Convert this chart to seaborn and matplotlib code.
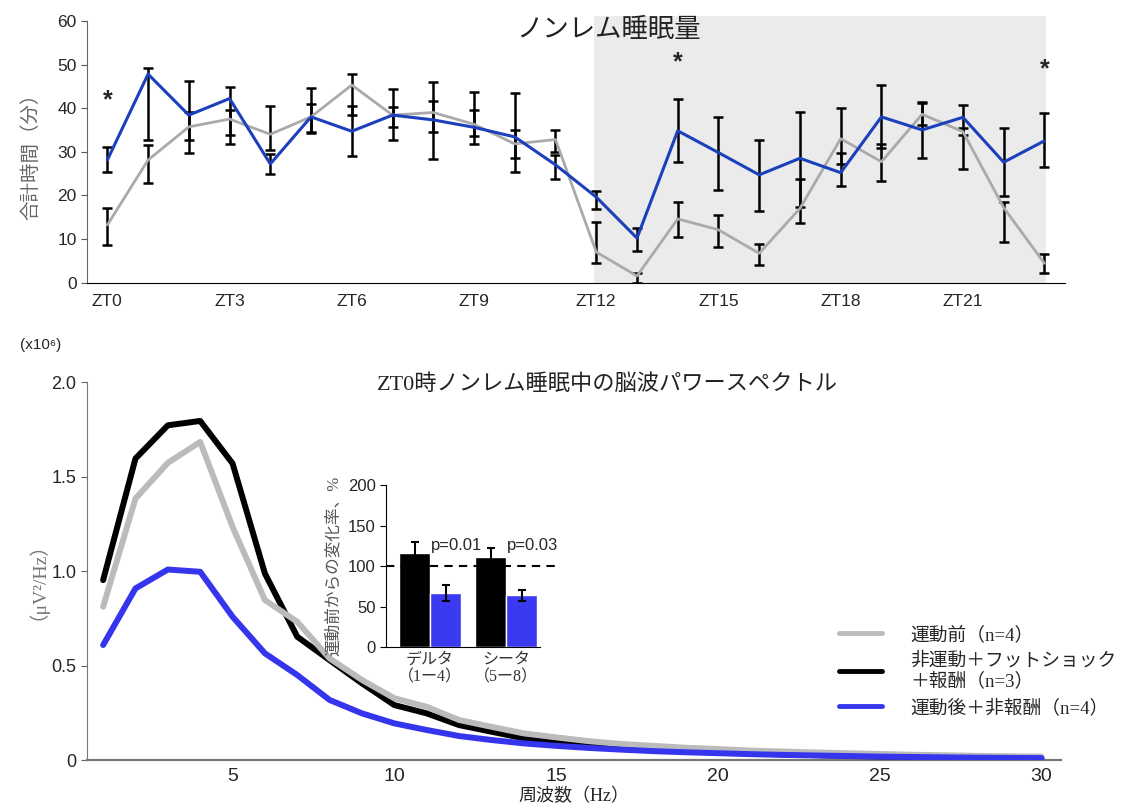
import numpy as np
import pandas as pd
import matplotlib
matplotlib.use("Agg")
import matplotlib.pyplot as plt
import seaborn as sns
from matplotlib.lines import Line2D

# ---- top panel: NREM amount per hour ----
hours = list(range(24))
zt_ticks = [0, 3, 6, 9, 12, 15, 18, 21]
zt_labels = ["ZT0", "ZT3", "ZT6", "ZT9", "ZT12", "ZT15", "ZT18", "ZT21"]

nrem_before = [13.2, 28.1, 35.7, 37.5, 34.0, 38.0, 45.3, 38.4, 39.0, 36.3, 31.8, 32.8,
               7.0, 1.5, 14.6, 12.1, 6.7, 17.0, 33.0, 27.7, 38.6, 34.6, 17.2, 4.4]
before_lo = [8.6, 22.9, 32.7, 31.7, 30.4, 34.2, 38.4, 32.7, 34.6, 33.6, 28.5, 30.0,
             4.4, 0.0, 10.4, 8.1, 4.1, 13.7, 27.3, 23.3, 36.1, 33.8, 9.2, 2.1]
before_hi = [17.0, 31.5, 39.1, 39.5, 40.5, 44.7, 47.8, 44.3, 41.7, 39.5, 35.0, 35.1,
             14.0, 2.3, 18.5, 15.5, 8.9, 23.7, 40.1, 31.8, 41.1, 35.4, 18.5, 6.6]

nrem_after = [28.1, 47.8, 38.4, 42.2, 27.2, 38.0, 34.7, 38.4, 37.3, 35.6, 33.4, 27.0,
              19.6, 10.2, 34.8, 29.8, 24.7, 28.5, 25.2, 38.0, 35.0, 37.9, 27.6, 32.5]
after_lo = [25.4, 32.6, 29.6, 33.8, 25.0, 34.6, 29.0, 35.7, 28.3, 31.7, 25.4, 23.7,
            16.8, 7.3, 27.7, 21.2, 16.3, 17.4, 22.1, 30.8, 28.5, 26.0, 19.9, 26.4]
after_hi = [31.1, 49.3, 46.3, 44.9, 29.5, 40.9, 40.5, 40.3, 46.0, 43.7, 43.5, 29.2,
            21.1, 12.6, 42.0, 38.0, 32.8, 39.0, 29.8, 45.3, 41.4, 40.7, 35.4, 38.9]

star_hours = [0, 14, 23]
star_y = [41.8, 50.6, 49.0]

# ---- bottom panel: power spectrum at ZT0 ----
freq = list(range(1, 31))
pow_before = [0.812, 1.385, 1.574, 1.685, 1.235, 0.847, 0.732, 0.538, 0.424, 0.327,
              0.282, 0.212, 0.176, 0.141, 0.120, 0.100, 0.085, 0.075, 0.065, 0.058,
              0.050, 0.045, 0.040, 0.036, 0.032, 0.028, 0.025, 0.022, 0.020, 0.018]
pow_shock = [0.953, 1.597, 1.773, 1.796, 1.571, 0.988, 0.653, 0.529, 0.406, 0.291,
             0.247, 0.185, 0.150, 0.115, 0.095, 0.078, 0.065, 0.055, 0.047, 0.040,
             0.035, 0.030, 0.026, 0.022, 0.019, 0.017, 0.015, 0.013, 0.011, 0.010]
pow_after = [0.609, 0.909, 1.009, 0.997, 0.759, 0.565, 0.450, 0.318, 0.247, 0.194,
             0.159, 0.127, 0.106, 0.088, 0.075, 0.064, 0.055, 0.047, 0.041, 0.036,
             0.031, 0.027, 0.024, 0.021, 0.018, 0.016, 0.014, 0.012, 0.011, 0.010]
legend_labels = ["運動前（n=4）", "非運動＋フットショック\n＋報酬（n=3）", "運動後＋非報酬（n=4）"]

# ---- inset: change from before (%) ----
bands = ["デルタ\n（1ー4）", "シータ\n（5ー8）"]
groups = ["非運動", "運動後"]
change = [[116, 112], [67, 64]]      # per group, per band
change_err = [[14, 11], [10, 6.5]]
p_texts = ["p=0.01", "p=0.03"]

sns.set_style("white")
plt.rcParams["font.family"] = ["Liberation Sans", "Noto Sans CJK JP", "DejaVu Sans"]
serif = ["Liberation Serif", "Noto Sans CJK JP", "DejaVu Sans"]

fig = plt.figure(figsize=(11.22, 8.05), dpi=100)

# ================= top =================
ax1 = fig.add_axes([0.0775, 0.649, 0.8715, 0.325])
ax1.axvspan(11.95, 23.05, ymin=0, ymax=1.02, color="#ebebeb", lw=0, zorder=0, clip_on=False)
ax1.errorbar(hours, nrem_before,
             yerr=[np.array(nrem_before) - before_lo, np.array(before_hi) - nrem_before],
             fmt="none", ecolor="black", elinewidth=1.8, capsize=3.6, capthick=1.8, zorder=2)
ax1.errorbar(hours, nrem_after,
             yerr=[np.array(nrem_after) - after_lo, np.array(after_hi) - nrem_after],
             fmt="none", ecolor="black", elinewidth=1.8, capsize=3.6, capthick=1.8, zorder=2)
sns.lineplot(x=hours, y=nrem_before, color="#aaaaaa", lw=2.0, ax=ax1, zorder=3)
sns.lineplot(x=hours, y=nrem_after, color="#1c3fbb", lw=2.2, ax=ax1, zorder=4)
for h, y in zip(star_hours, star_y):
    ax1.text(h, y, "*", ha="center", va="center", fontsize=18, fontweight="bold")
ax1.set_xlim(-0.5, 23.5)
ax1.set_ylim(0, 60)
ax1.set_yticks(range(0, 61, 10))
ax1.set_xticks(zt_ticks)
ax1.set_xticklabels(zt_labels)
ax1.tick_params(axis="x", length=0, labelsize=12.5, pad=8)
ax1.tick_params(axis="y", length=4, labelsize=12.5, color="#555555", direction="out")
ax1.yaxis.set_ticks_position("left")
sns.despine(ax=ax1)
ax1.spines["left"].set_color("#666666")
ax1.spines["bottom"].set_color("black")
ax1.set_ylabel("合計時間（分）", fontsize=14, color="#666666", labelpad=12)
fig.text(0.5428, 0.963, "ノンレム睡眠量", ha="center", va="center", fontsize=19,
         family=serif, color="#222222")

# ================= bottom =================
ax2 = fig.add_axes([0.0775, 0.0559, 0.868, 0.469])
sns.lineplot(x=freq, y=pow_shock, color="black", lw=4.3, ax=ax2, zorder=3)
sns.lineplot(x=freq, y=pow_before, color="#bbbbbb", lw=4.3, ax=ax2, zorder=4)
sns.lineplot(x=freq, y=pow_after, color="#3535ee", lw=4.3, ax=ax2, zorder=5)
ax2.set_xlim(0.5, 30.6)
ax2.set_ylim(0, 2.0)
ax2.set_yticks([0, 0.5, 1.0, 1.5, 2.0])
ax2.set_yticklabels(["0", "0.5", "1.0", "1.5", "2.0"])
ax2.set_xticks([5, 10, 15, 20, 25, 30])
ax2.tick_params(axis="x", length=0, labelsize=14, pad=6)
ax2.tick_params(axis="y", length=4, labelsize=13, color="#666666", direction="out")
ax2.yaxis.set_ticks_position("left")
sns.despine(ax=ax2)
ax2.spines["left"].set_color("#777777")
ax2.spines["bottom"].set_color("#777777")
ax2.spines["bottom"].set_linewidth(1.6)
ax2.set_xlabel("周波数（Hz）", fontsize=13, family=serif, labelpad=2)
ax2.set_ylabel("（μV²/Hz）", fontsize=14, family=serif, color="#777777", labelpad=10)
fig.text(0.036, 0.571, "(x10⁶)", ha="center", va="center", fontsize=11)
fig.text(0.541, 0.522, "ZT0時ノンレム睡眠中の脳波パワースペクトル", ha="center", va="center",
         fontsize=16, family=serif, color="#222222")

handles = [Line2D([], [], color="#bbbbbb", lw=3.5),
           Line2D([], [], color="black", lw=3.5),
           Line2D([], [], color="#3535ee", lw=3.5)]
leg = ax2.legend(handles, legend_labels, loc="upper left", bbox_to_anchor=(0.755, 0.40),
                 frameon=False, handlelength=2.3, handletextpad=1.5, labelspacing=0.45,
                 prop={"family": serif, "size": 13.5})

# ================= inset =================
ax3 = fig.add_axes([0.344, 0.196, 0.137, 0.2012])
ax3.set_facecolor("none")
df = pd.DataFrame({
    "band": bands * 2,
    "group": [groups[0]] * 2 + [groups[1]] * 2,
    "value": change[0] + change[1],
})
sns.barplot(data=df, x="band", y="value", hue="group", order=bands, hue_order=groups,
            palette=["black", "#3a3af0"], errorbar=None, width=0.82, legend=False,
            saturation=1, ax=ax3)
bars = [p for p in ax3.patches if p.get_width() > 0]
errs = change_err[0] + change_err[1]
for p, e in zip(bars, errs):
    cx = p.get_x() + p.get_width() / 2
    ax3.errorbar(cx, p.get_height(), yerr=e, fmt="none", ecolor="black",
                 elinewidth=1.5, capsize=3, capthick=1.5, zorder=5)
ax3.axhline(100, xmin=0, xmax=1.1, color="black", lw=1.5, ls=(0, (4, 3)), clip_on=False, zorder=6)
for i, t in enumerate(p_texts):
    ax3.text(i + 0.35, 126, t, ha="center", va="center", fontsize=12)
ax3.set_xlim(-0.58, 1.44)
ax3.set_ylim(0, 200)
ax3.set_yticks(range(0, 201, 50))
ax3.tick_params(axis="y", length=4, labelsize=12, direction="out", color="black")
ax3.tick_params(axis="x", length=0, pad=3)
ax3.yaxis.set_ticks_position("left")
for lab in ax3.get_xticklabels():
    lab.set_family(serif)
    lab.set_fontsize(11.5)
    lab.set_color("#333333")
ax3.set_xlabel("")
ax3.set_ylabel("運動前からの変化率、%", fontsize=12, family=serif, color="#555555", labelpad=4)
sns.despine(ax=ax3)
ax3.spines["left"].set_color("black")
ax3.spines["bottom"].set_color("black")

fig.savefig("out.png", dpi=100)
